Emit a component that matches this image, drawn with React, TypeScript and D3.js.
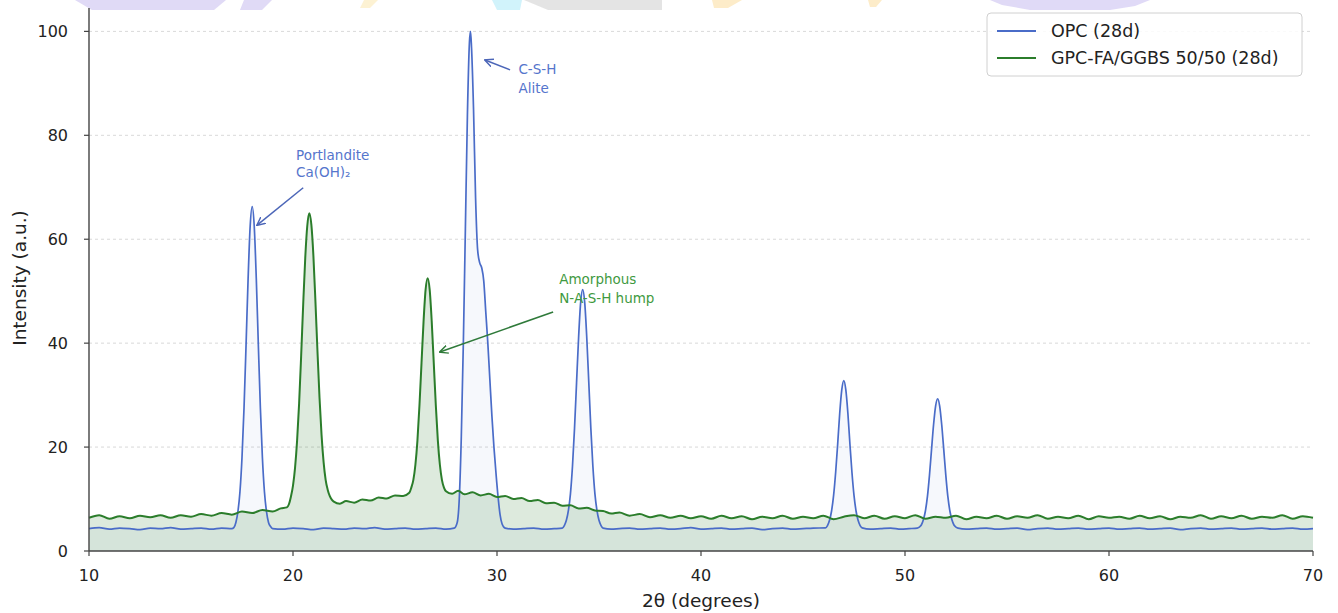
import React from "react";
import * as d3 from "d3";

// ---------- data ----------
const xTicks = [10, 20, 30, 40, 50, 60, 70];
const yTicks = [0, 20, 40, 60, 80, 100];

const seriesNames = ["OPC (28d)", "GPC-FA/GGBS 50/50 (28d)"];

// OPC (28d) pattern: [2θ, intensity]
const opcPattern: [number, number][] = [
  [10, 4.3], [10.5, 4.5], [11, 4.2], [11.5, 4.4], [12, 4.3], [12.5, 4.1], [13, 4.4], [13.5, 4.3], [14, 4.5],
  [14.5, 4.2], [15, 4.3], [15.5, 4.4], [16, 4.2], [16.5, 4.4], [17, 4.3],
  [17.1, 4.5], [17.2, 5.5], [17.3, 7.6], [17.4, 11.4], [17.5, 18.0], [17.6, 27.6], [17.7, 39.8], [17.8, 52.5],
  [17.9, 62.5], [18.0, 66.3], [18.1, 62.5], [18.2, 52.5], [18.3, 39.8], [18.4, 27.6], [18.5, 18.0], [18.6, 11.4],
  [18.7, 7.6], [18.8, 5.5], [18.9, 4.7], [19.0, 4.3],
  [19.5, 4.2], [20, 4.4], [20.5, 4.3], [21, 4.1], [21.5, 4.4], [22, 4.3], [22.5, 4.2], [23, 4.4], [23.5, 4.3],
  [24, 4.5], [24.5, 4.2], [25, 4.3], [25.5, 4.4], [26, 4.2], [26.5, 4.3], [27, 4.4], [27.5, 4.2], [27.9, 4.4],
  [28.05, 5.5], [28.15, 10], [28.25, 22], [28.35, 40], [28.45, 62], [28.55, 84], [28.65, 98], [28.7, 100],
  [28.75, 97], [28.85, 85], [28.95, 68], [29.05, 58], [29.15, 55.5], [29.25, 54.5], [29.35, 52], [29.45, 46],
  [29.55, 40], [29.65, 33], [29.75, 26], [29.85, 20], [29.95, 15], [30.05, 10.5], [30.15, 7], [30.25, 5.2],
  [30.4, 4.4], [30.8, 4.2], [31.3, 4.3], [31.8, 4.4], [32.3, 4.2], [32.8, 4.3], [33.2, 4.4],
  [33.3, 4.9], [33.4, 5.9], [33.5, 7.8], [33.6, 11.0], [33.7, 16.3], [33.8, 23.6], [33.9, 32.4], [34.0, 41.1],
  [34.1, 47.8], [34.2, 50.3], [34.3, 47.8], [34.4, 41.1], [34.5, 32.4], [34.6, 23.6], [34.7, 16.3], [34.8, 11.0],
  [34.9, 7.8], [35.0, 5.9], [35.1, 4.9], [35.2, 4.4],
  [35.6, 4.2], [36, 4.3], [36.5, 4.4], [37, 4.2], [37.5, 4.3], [38, 4.4], [38.5, 4.2], [39, 4.3], [39.5, 4.5],
  [40, 4.2], [40.5, 4.3], [41, 4.4], [41.5, 4.2], [42, 4.3], [42.5, 4.4], [43, 4.1], [43.5, 4.3], [44, 4.4],
  [44.5, 4.2], [45, 4.3], [45.5, 4.4], [46.1, 4.45],
  [46.2, 4.9], [46.3, 5.9], [46.4, 7.7], [46.5, 10.7], [46.6, 15.1], [46.7, 20.6], [46.8, 26.5], [46.9, 31.0],
  [47.0, 32.8], [47.1, 31.0], [47.2, 26.5], [47.3, 20.6], [47.4, 15.1], [47.5, 10.7], [47.6, 7.7], [47.7, 5.9],
  [47.8, 4.9], [47.9, 4.45],
  [48.3, 4.2], [48.8, 4.3], [49.3, 4.4], [49.8, 4.2], [50.2, 4.3],
  [50.6, 4.4], [50.7, 4.6], [50.8, 5.0], [50.9, 6.0], [51.0, 7.7], [51.1, 10.5], [51.2, 14.6], [51.3, 19.5],
  [51.4, 24.3], [51.5, 27.9], [51.6, 29.3], [51.7, 27.9], [51.8, 24.3], [51.9, 19.5], [52.0, 14.6], [52.1, 10.5],
  [52.2, 7.7], [52.3, 6.0], [52.4, 5.0], [52.5, 4.6], [52.6, 4.4],
  [53, 4.2], [53.5, 4.3], [54, 4.4], [54.5, 4.2], [55, 4.3], [55.5, 4.4], [56, 4.1], [56.5, 4.3], [57, 4.4],
  [57.5, 4.2], [58, 4.3], [58.5, 4.4], [59, 4.2], [59.5, 4.3], [60, 4.4], [60.5, 4.2], [61, 4.3], [61.5, 4.4],
  [62, 4.2], [62.5, 4.3], [63, 4.4], [63.5, 4.1], [64, 4.3], [64.5, 4.4], [65, 4.2], [65.5, 4.3], [66, 4.4],
  [66.5, 4.2], [67, 4.3], [67.5, 4.4], [68, 4.2], [68.5, 4.3], [69, 4.4], [69.5, 4.2], [70, 4.3],
];

// GPC-FA/GGBS 50/50 (28d) pattern: [2θ, intensity]
const gpcPattern: [number, number][] = [
  [10, 6.4], [10.5, 6.9], [11, 6.2], [11.5, 6.7], [12, 6.3], [12.5, 6.8], [13, 6.5], [13.5, 6.9], [14, 6.4],
  [14.5, 6.9], [15, 6.6], [15.5, 7.1], [16, 6.8], [16.5, 7.3], [17, 7.0], [17.5, 7.6], [18, 7.3], [18.5, 7.9],
  [19, 7.6], [19.4, 8.2],
  [19.7, 8.4], [19.8, 9.0], [19.9, 10.5], [20.0, 12.6], [20.1, 16.0], [20.2, 21.2], [20.3, 28.4], [20.4, 37.6],
  [20.5, 47.5], [20.6, 56.4], [20.7, 62.6], [20.8, 65.0], [20.9, 62.8], [21.0, 56.8], [21.1, 48.0], [21.2, 38.4],
  [21.3, 29.5], [21.4, 22.3], [21.5, 17.1], [21.6, 13.7], [21.7, 11.8], [21.8, 10.6], [21.9, 9.9], [22.0, 9.5],
  [22.3, 9.1], [22.6, 9.6], [23.0, 9.3], [23.4, 9.9], [23.8, 9.7], [24.2, 10.3], [24.6, 10.1], [25.0, 10.7],
  [25.4, 10.6], [25.7, 11.2],
  [25.8, 12.2], [25.9, 13.7], [26.0, 16.6], [26.1, 21.3], [26.2, 28.1], [26.3, 36.2], [26.4, 44.2], [26.5, 50.3],
  [26.6, 52.5], [26.7, 50.3], [26.8, 44.2], [26.9, 36.2], [27.0, 28.1], [27.1, 21.3], [27.2, 16.6], [27.3, 13.7],
  [27.4, 12.2], [27.5, 11.5],
  [27.8, 11.0], [28.1, 11.6], [28.4, 10.9], [28.8, 11.3], [29.2, 10.7], [29.6, 11.0], [30.0, 10.4], [30.4, 10.6],
  [30.8, 10.0], [31.2, 10.2], [31.6, 9.6], [32.0, 9.8], [32.4, 9.2], [32.8, 9.3], [33.2, 8.7], [33.6, 8.8],
  [34.0, 8.2], [34.4, 8.3], [34.8, 7.8], [35.2, 7.7], [35.6, 7.2], [36.0, 7.4], [36.5, 6.8], [37, 7.1], [37.5, 6.5],
  [38, 6.9], [38.5, 6.4], [39, 6.8], [39.5, 6.3], [40, 6.7], [40.5, 6.2], [41, 6.8], [41.5, 6.3], [42, 6.7],
  [42.5, 6.1], [43, 6.6], [43.5, 6.3], [44, 6.8], [44.5, 6.2], [45, 6.6], [45.5, 6.3], [46, 6.8], [46.5, 6.1],
  [47, 6.6], [47.5, 6.9], [48, 6.3], [48.5, 6.8], [49, 6.2], [49.5, 6.7], [50, 6.3], [50.5, 6.9], [51, 6.2],
  [51.5, 6.6], [52, 6.4], [52.5, 6.8], [53, 6.1], [53.5, 6.6], [54, 6.3], [54.5, 6.8], [55, 6.2], [55.5, 6.7],
  [56, 6.4], [56.5, 6.9], [57, 6.2], [57.5, 6.6], [58, 6.3], [58.5, 6.8], [59, 6.1], [59.5, 6.7], [60, 6.4],
  [60.5, 6.6], [61, 6.2], [61.5, 6.8], [62, 6.3], [62.5, 6.7], [63, 6.1], [63.5, 6.6], [64, 6.4], [64.5, 6.9],
  [65, 6.2], [65.5, 6.7], [66, 6.3], [66.5, 6.8], [67, 6.2], [67.5, 6.6], [68, 6.4], [68.5, 6.9], [69, 6.2],
  [69.5, 6.7], [70, 6.4],
];

// annotations: text lines, text anchor (2θ, I), arrow tail (2θ, I), arrow head (2θ, I)
const annotationLines = [["Portlandite", "Ca(OH)₂"], ["C-S-H", "Alite"], ["Amorphous", "N-A-S-H hump"]];
const annotationText: [number, number][] = [[20.15, 75.2], [31.05, 91.8], [33.05, 51.3]];
const annotationTail: [number, number][] = [[20.5, 69.9], [30.64, 92.6], [32.75, 46.0]];
const annotationHead: [number, number][] = [[18.24, 62.7], [29.41, 94.5], [27.2, 38.3]];

// ---------- styling ----------
const W = 1338;
const H = 613;
const BLUE = "#4a6cc8";
const GREEN = "#2b7d2b";
const FONT = "'DejaVu Sans', sans-serif";
const annotationColor = ["#5575cc", "#5575cc", "#3f9a3f"];
const arrowColor = ["#4c66b8", "#4c66b8", "#2f7a3a"];
const annotationSpacing = [17, 19, 18.5];

export default function App() {
  const x = d3.scaleLinear().domain([10, 70]).range([89, 1313]);
  const y = d3.scaleLinear().domain([0, 104.5]).range([551, 8]);

  const line = d3
    .line<[number, number]>()
    .x((d) => x(d[0]))
    .y((d) => y(d[1]))
    .curve(d3.curveMonotoneX);
  const area = d3
    .area<[number, number]>()
    .x((d) => x(d[0]))
    .y0(y(0))
    .y1((d) => y(d[1]))
    .curve(d3.curveMonotoneX);

  const [x0, x1] = x.range();
  const [yb, yt] = y.range();

  return (
    <svg
      width={W}
      height={H}
      style={{ position: "absolute", left: 0, top: 0, background: "#fff" }}
      fontFamily={FONT}
    >
      <defs>
        {arrowColor.map((c, i) => (
          <marker
            key={i}
            id={`arr${i}`}
            viewBox="0 0 10 10"
            refX={9}
            refY={5}
            markerWidth={9}
            markerHeight={9}
            markerUnits="userSpaceOnUse"
            orient="auto"
          >
            <path d="M0,0.5 L9.5,5 L0,9.5" fill="none" stroke={c} strokeWidth={1.6} />
          </marker>
        ))}
      </defs>

      {/* watermark fragments at the top edge */}
      <g opacity={0.9}>
        <path d="M75,0 L226,0 L214,10 L92,10 Z" fill="#ddd6f6" />
        <path d="M244,0 L272,0 L262,10 L240,10 Z" fill="#ddd6f6" />
        <path d="M364,0 L378,0 L370,8 L360,8 Z" fill="#fdf1cf" />
        <path d="M492,0 L522,0 L520,10 L497,10 Z" fill="#cdf2fb" />
        <path d="M524,0 L662,0 L662,10 L548,10 Z" fill="#e2e2e2" />
        <path d="M712,0 L742,0 L728,8 L714,8 Z" fill="#fdebc4" />
        <path d="M868,0 L882,0 L876,7 L870,7 Z" fill="#fdebc4" />
        <path d="M990,0 L1150,0 L1135,6 L1110,10 L1030,10 L1002,5 Z" fill="#ddd6f6" />
      </g>

      {/* grid */}
      {yTicks
        .filter((t) => t > 0)
        .map((t) => (
          <line
            key={t}
            x1={x0}
            x2={x1}
            y1={y(t)}
            y2={y(t)}
            stroke="#d9d9d9"
            strokeWidth={1}
            strokeDasharray="3,3"
          />
        ))}

      {/* fills */}
      <path d={area(opcPattern) || ""} fill={BLUE} fillOpacity={0.05} />
      <path d={area(gpcPattern) || ""} fill={GREEN} fillOpacity={0.16} />

      {/* lines */}
      <path d={line(opcPattern) || ""} fill="none" stroke={BLUE} strokeWidth={1.7} />
      <path d={line(gpcPattern) || ""} fill="none" stroke={GREEN} strokeWidth={2} />

      {/* annotations */}
      {annotationLines.map((lines, i) => {
        const [tx, ty] = annotationText[i];
        const [ax, ay] = annotationTail[i];
        const [hx, hy] = annotationHead[i];
        return (
          <g key={i}>
            <line
              x1={x(ax)}
              y1={y(ay)}
              x2={x(hx)}
              y2={y(hy)}
              stroke={arrowColor[i]}
              strokeWidth={1.5}
              markerEnd={`url(#arr${i})`}
            />
            {lines.map((s, j) => (
              <text
                key={j}
                x={x(tx)}
                y={y(ty) + j * annotationSpacing[i]}
                fontSize={13.5}
                fill={annotationColor[i]}
              >
                {s}
              </text>
            ))}
          </g>
        );
      })}

      {/* axes */}
      <line x1={x0} x2={x0} y1={yb} y2={yt} stroke="#444" strokeWidth={1.4} />
      <line x1={x0} x2={x1} y1={yb} y2={yb} stroke="#444" strokeWidth={1.4} />
      {yTicks.map((t) => (
        <g key={t}>
          <line x1={x0 - 5} x2={x0} y1={y(t)} y2={y(t)} stroke="#444" strokeWidth={1.2} />
          <text
            x={x0 - 21}
            y={y(t)}
            dy="0.36em"
            textAnchor="end"
            fontSize={16}
            fill="#222"
          >
            {t}
          </text>
        </g>
      ))}
      {xTicks.map((t) => (
        <g key={t}>
          <line x1={x(t)} x2={x(t)} y1={yb} y2={yb + 5} stroke="#444" strokeWidth={1.2} />
          <text x={x(t)} y={yb + 30} textAnchor="middle" fontSize={16} fill="#222">
            {t}
          </text>
        </g>
      ))}
      <text x={(x0 + x1) / 2} y={607} textAnchor="middle" fontSize={18.5} fill="#222">
        2θ (degrees)
      </text>
      <text
        transform={`translate(26, 278) rotate(-90)`}
        textAnchor="middle"
        fontSize={18.5}
        fill="#222"
      >
        Intensity (a.u.)
      </text>

      {/* legend */}
      <g>
        <rect
          x={987}
          y={13}
          width={315}
          height={63}
          rx={4}
          fill="#fff"
          fillOpacity={0.85}
          stroke="#d0d0d0"
        />
        {seriesNames.map((n, i) => (
          <g key={n}>
            <line
              x1={997}
              x2={1036}
              y1={31 + i * 27}
              y2={31 + i * 27}
              stroke={i === 0 ? BLUE : GREEN}
              strokeWidth={2}
            />
            <text x={1051} y={31 + i * 27} dy="0.36em" fontSize={17.5} fill="#222">
              {n}
            </text>
          </g>
        ))}
      </g>
    </svg>
  );
}
